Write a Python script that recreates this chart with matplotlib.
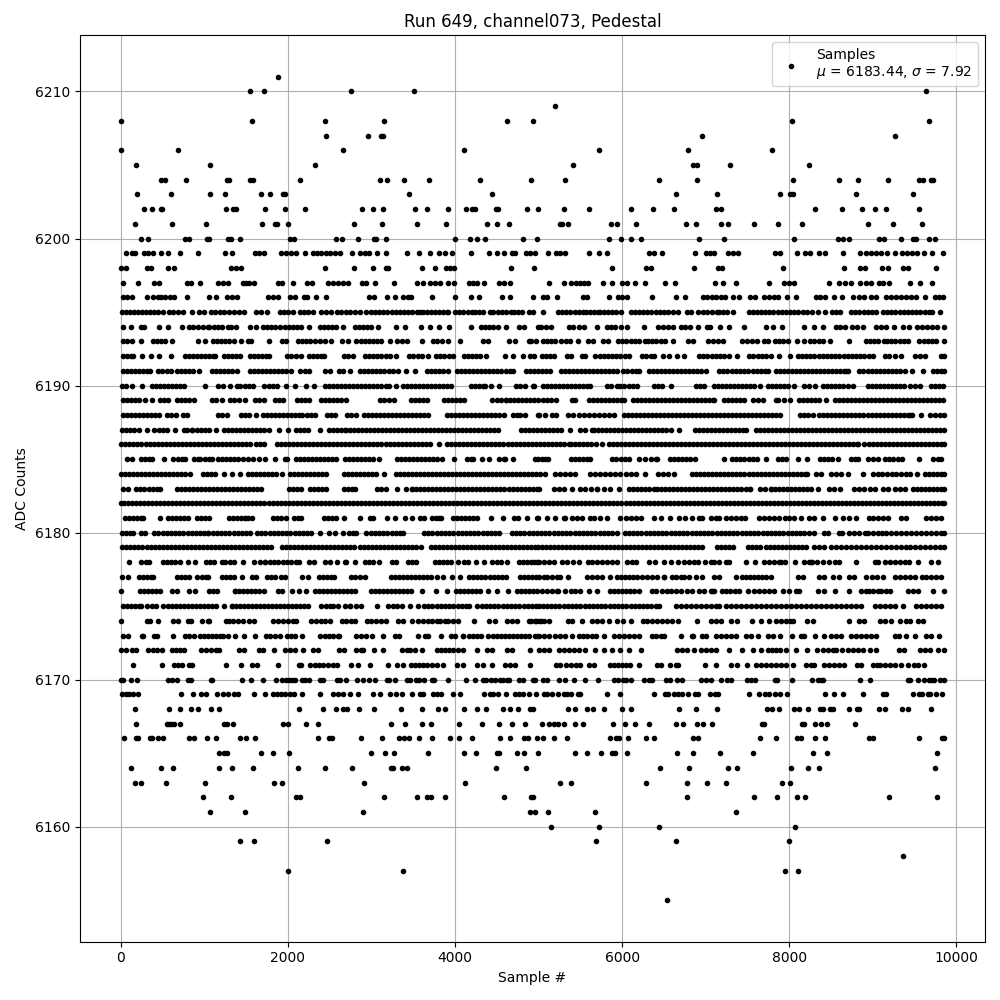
import matplotlib
matplotlib.use('Agg')
import matplotlib.pyplot as plt

# sample numbers, one list per ADC count
x_6211 = [1880]
x_6210 = [1544, 1712, 2756, 3512, 9636]
x_6209 = [5196]
x_6208 = [8, 1568, 2444, 3152, 4616, 4928, 8028, 9672]
x_6207 = [2456, 2960, 3116, 3140, 6960, 9264]
x_6206 = [0, 680, 2660, 4112, 5724, 6792, 7788]
x_6205 = [188, 1064, 2324, 5412, 6852, 6900, 7296, 8232]
x_6204 = [476, 524, 776, 1268, 1292, 1544, 1580, 2144, 3104, 3188, 3392, 3692, 4304, 4904, 5316, 6444, 6900, 8040,
          8592, 8820, 9180, 9552, 9600, 9696, 9720]
x_6203 = [200, 596, 1064, 1244, 1676, 1784, 1940, 1964, 3452, 4448, 6648, 7140, 7884, 8004, 8040, 8796, 9480]
x_6202 = [284, 368, 476, 488, 1256, 1340, 1376, 1724, 1964, 2204, 2888, 3020, 3140, 3524, 3668, 3920, 4136, 4208,
          4244, 4496, 4520, 4856, 4992, 5304, 5604, 6108, 6372, 6624, 7128, 7188, 8304, 8628, 8868, 9024, 9156, 9552]
x_6201 = [176, 608, 1016, 1688, 1844, 1868, 2000, 2792, 3128, 3548, 3896, 4388, 4508, 4640, 5256, 5280, 5352, 5868,
          5940, 6168, 6768, 6888, 7188, 7272, 7572, 7860, 8148, 8940, 9240, 9588]
x_6200 = [248, 320, 764, 812, 1028, 1052, 1280, 1316, 1424, 2024, 2072, 2576, 2648, 2840, 3032, 3056, 3176, 4004,
          4184, 4268, 4364, 4808, 4980, 5844, 5988, 6108, 6228, 6924, 7224, 8052, 8580, 8640, 8712, 9072, 9132, 9336,
          9480, 9516, 9672, 9744]
x_6199 = [60, 140, 172, 280, 328, 380, 476, 560, 704, 920, 1244, 1328, 1608, 1660, 1720, 1920, 1972, 2040, 2092,
          2204, 2300, 2348, 2400, 2460, 2500, 2560, 2620, 2768, 2860, 2920, 2972, 3068, 3168, 3428, 3568, 3704, 3812,
          3880, 3968, 4196, 4412, 4508, 4588, 4680, 4720, 4852, 4900, 4952, 5112, 5204, 5252, 5312, 5604, 5724, 5820,
          6324, 6380, 6480, 6876, 7004, 7052, 7100, 7272, 7332, 7392, 7832, 7892, 8092, 8192, 8252, 8352, 8432, 8640,
          8852, 8912, 8972, 9032, 9092, 9164, 9264, 9352, 9412, 9472, 9532, 9612, 9712, 9844]
x_6198 = [8, 60, 308, 360, 560, 640, 1320, 1380, 1440, 2444, 2788, 3020, 3172, 3200, 3608, 3764, 3892, 3940, 3988,
          4664, 4940, 5880, 6280, 6340, 6864, 7152, 7200, 7920, 8652, 8844, 8904, 9104, 9180, 9364, 9420, 9756]
x_6197 = [32, 212, 400, 460, 788, 840, 944, 1160, 1220, 1280, 1460, 1500, 1540, 1600, 1880, 1932, 2056, 2228, 2284,
          2480, 2540, 2600, 2660, 2720, 2888, 2940, 3044, 3272, 3548, 3612, 3700, 3760, 3820, 3912, 3992, 4172, 4220,
          4268, 4352, 4532, 4588, 4652, 5124, 5304, 5388, 5444, 5492, 5544, 5592, 5772, 5880, 6000, 6052, 6148, 6276,
          6516, 6636, 7116, 7212, 7368, 7756, 7932, 7992, 8052, 8472, 8592, 8672, 8740, 8852, 8912, 8972, 9072, 9124,
          9192, 9444, 9564, 9708]
x_6196 = [28, 80, 132, 308, 388, 440, 480, 532, 588, 640, 788, 1052, 1140, 1268, 1328, 1388, 1760, 1820, 1880, 2020,
          2080, 2188, 2228, 2336, 2456, 2972, 3028, 3188, 3284, 3380, 3440, 3468, 3728, 4004, 4196, 4292, 4568, 4652,
          4928, 5052, 5100, 5220, 5532, 5580, 5844, 5952, 6004, 6052, 6360, 6648, 6756, 6964, 7020, 7072, 7124, 7180,
          7232, 7332, 7404, 7532, 7592, 7692, 7752, 7812, 7864, 7968, 8076, 8316, 8372, 8432, 8532, 8628, 8764, 8832,
          8900, 8972, 9032, 9152, 9212, 9272, 9332, 9392, 9452, 9512, 9628, 9740, 9792, 9844]
x_6195 = [12, 60, 108, 156, 204, 252, 300, 348, 396, 444, 500, 580, 630, 680, 740, 852, 940, 996, 1080, 1130, 1188,
          1240, 1300, 1352, 1410, 1470, 1620, 1680, 1748, 1900, 1950, 2000, 2060, 2140, 2190, 2240, 2300, 2400, 2460,
          2520, 2590, 2640, 2690, 2740, 2800, 2860, 2940, 2990, 3040, 3092, 3140, 3190, 3240, 3290, 3340, 3390, 3440,
          3490, 3540, 3580, 3612, 3660, 3710, 3760, 3810, 3860, 3900, 3920, 4000, 4050, 4100, 4150, 4200, 4240, 4290,
          4340, 4420, 4460, 4510, 4560, 4610, 4668, 4700, 4750, 4800, 4880, 4928, 5052, 5232, 5280, 5330, 5380, 5430,
          5480, 5530, 5572, 5612, 5660, 5712, 5732, 5780, 5830, 5880, 5930, 5992, 6100, 6150, 6200, 6250, 6300, 6350,
          6400, 6450, 6500, 6552, 6612, 6672, 6772, 6820, 6912, 6972, 7020, 7070, 7132, 7160, 7210, 7260, 7332, 7512,
          7560, 7610, 7660, 7710, 7760, 7810, 7860, 7910, 7960, 8010, 8060, 8110, 8160, 8212, 8272, 8340, 8432, 8512,
          8560, 8610, 8740, 8792, 8840, 8890, 8940, 8990, 9040, 9124, 9172, 9220, 9270, 9320, 9370, 9420, 9470, 9520,
          9570, 9620, 9670, 9712, 9804]
x_6194 = [32, 128, 240, 280, 452, 560, 732, 820, 870, 920, 980, 1040, 1060, 1110, 1160, 1210, 1280, 1320, 1380, 1548,
          1620, 1700, 1750, 1800, 1850, 1900, 1960, 2010, 2060, 2110, 2160, 2252, 2380, 2430, 2480, 2530, 2580, 2660,
          2800, 2850, 2900, 2950, 3000, 3080, 3296, 3404, 3596, 3704, 3812, 3932, 4188, 4308, 4360, 4410, 4460, 4520,
          4612, 4760, 4828, 4988, 5032, 5092, 5152, 5364, 5412, 5484, 5540, 5704, 5820, 5870, 5920, 5992, 6052, 6264,
          6432, 6492, 6552, 6604, 6700, 6752, 6812, 6912, 7020, 7052, 7168, 7284, 7464, 7716, 7800, 7912, 8172, 8296,
          8400, 8564, 8612, 8672, 8752, 8812, 8880, 9032, 9092, 9152, 9252, 9364, 9432, 9532, 9590, 9650, 9710, 9770,
          9846]
x_6193 = [28, 80, 132, 248, 380, 428, 480, 532, 608, 920, 1008, 1100, 1150, 1200, 1250, 1300, 1360, 1436, 1520, 1560,
          1772, 1932, 1972, 2120, 2170, 2220, 2270, 2320, 2380, 2440, 2520, 2648, 2720, 2820, 2870, 2920, 2970, 3020,
          3070, 3120, 3220, 3300, 3360, 3420, 3600, 3740, 3790, 3840, 3920, 4060, 4340, 4400, 4640, 4720, 4880, 4912,
          4964, 5052, 5100, 5152, 5200, 5272, 5332, 5380, 5472, 5592, 5652, 5772, 5832, 5952, 6000, 6050, 6100, 6150,
          6200, 6272, 6312, 6360, 6410, 6460, 6510, 6612, 6792, 6852, 7032, 7092, 7152, 7212, 7432, 7492, 7552, 7612,
          7692, 7740, 7832, 7880, 7930, 7980, 8092, 8172, 8252, 8300, 8350, 8400, 8492, 8720, 8912, 8960, 9010, 9060,
          9132, 9172, 9220, 9270, 9320, 9370, 9420, 9552, 9612, 9660, 9710, 9760, 9846]
x_6192 = [28, 76, 120, 152, 260, 360, 460, 600, 768, 816, 864, 912, 960, 1008, 1056, 1100, 1132, 1240, 1288, 1336,
          1384, 1432, 1548, 1596, 1644, 1692, 1740, 1772, 1988, 2040, 2092, 2152, 2248, 2296, 2344, 2392, 2432, 2668,
          2720, 2784, 2928, 2976, 3024, 3072, 3120, 3168, 3216, 3292, 3448, 3500, 3552, 3604, 3672, 3768, 3820, 3872,
          3924, 3972, 4108, 4156, 4204, 4252, 4300, 4372, 4600, 4688, 4812, 4900, 4940, 5040, 5090, 5140, 5184, 5340,
          5384, 5520, 5560, 5680, 5730, 5780, 5830, 5880, 5930, 5980, 6030, 6084, 6240, 6290, 6340, 6384, 6492, 6564,
          6652, 6740, 6920, 6970, 7020, 7070, 7120, 7170, 7220, 7284, 7380, 7520, 7570, 7620, 7670, 7720, 7784, 7872,
          8012, 8100, 8150, 8200, 8250, 8300, 8350, 8400, 8450, 8500, 8550, 8600, 8650, 8700, 8750, 8800, 8850, 8900,
          8950, 9004, 9140, 9190, 9264, 9332, 9500, 9560, 9624, 9820, 9850]
x_6191 = [28, 76, 124, 172, 220, 268, 316, 352, 448, 496, 552, 600, 668, 716, 764, 812, 860, 932, 1092, 1140, 1188,
          1236, 1284, 1332, 1392, 1548, 1596, 1644, 1692, 1740, 1788, 1836, 1884, 1932, 1980, 2032, 2148, 2200, 2252,
          2448, 2500, 2612, 2664, 2744, 2868, 2916, 2964, 3012, 3060, 3108, 3156, 3204, 3252, 3312, 3412, 3520, 3668,
          3716, 3764, 3812, 3860, 3912, 4028, 4076, 4124, 4172, 4220, 4268, 4316, 4364, 4412, 4460, 4508, 4556, 4604,
          4652, 4692, 4848, 4896, 4944, 4992, 5040, 5088, 5136, 5264, 5312, 5360, 5408, 5456, 5504, 5552, 5600, 5648,
          5696, 5744, 5792, 5840, 5888, 5940, 6008, 6060, 6112, 6164, 6200, 6320, 6368, 6416, 6464, 6512, 6560, 6608,
          6656, 6704, 6752, 6800, 6848, 6896, 6944, 7000, 7160, 7210, 7260, 7310, 7360, 7410, 7460, 7510, 7560, 7610,
          7660, 7710, 7744, 7840, 7888, 7936, 7984, 8032, 8080, 8128, 8176, 8224, 8272, 8320, 8368, 8416, 8464, 8512,
          8560, 8608, 8656, 8704, 8684, 8840, 8888, 8936, 8984, 9032, 9080, 9128, 9176, 9224, 9272, 9320, 9384, 9472,
          9604, 9720, 9770, 9820, 9850]
x_6190 = [20, 68, 132, 260, 372, 420, 468, 516, 564, 612, 660, 708, 752, 1012, 1164, 1228, 1312, 1388, 1432, 1492,
          1540, 1588, 1712, 1768, 1820, 1868, 1976, 2080, 2216, 2312, 2448, 2496, 2544, 2592, 2640, 2688, 2736, 2784,
          2832, 2880, 2928, 2976, 3024, 3072, 3120, 3168, 3212, 3288, 3380, 3428, 3476, 3524, 3572, 3620, 3668, 3716,
          3764, 3812, 3860, 3908, 3952, 4188, 4236, 4284, 4332, 4360, 4428, 4528, 4728, 4776, 4832, 4940, 4932, 5052,
          5100, 5148, 5196, 5244, 5292, 5340, 5388, 5436, 5484, 5532, 5580, 5612, 5820, 5868, 5936, 5980, 6028, 6076,
          6124, 6180, 6380, 6428, 6476, 6584, 6880, 6928, 6984, 7100, 7148, 7196, 7244, 7292, 7340, 7388, 7436, 7484,
          7532, 7580, 7644, 7740, 7788, 7836, 7884, 7932, 7980, 8052, 8180, 8240, 8304, 8400, 8448, 8496, 8544, 8592,
          8640, 8700, 8760, 8940, 8988, 9036, 9084, 9132, 9180, 9228, 9276, 9324, 9372, 9440, 9500, 9560, 9700, 9740,
          9790, 9840]
x_6189 = [28, 76, 124, 172, 220, 292, 368, 468, 516, 564, 672, 720, 768, 816, 876, 1088, 1140, 1212, 1308, 1356,
          1412, 1488, 1608, 1656, 1712, 1840, 1888, 1940, 2108, 2156, 2204, 2252, 2392, 2440, 2488, 2536, 2584, 2632,
          2692, 3108, 3156, 3204, 3272, 3468, 3516, 3564, 3612, 3668, 3868, 3916, 3964, 4012, 4060, 4112, 4448, 4500,
          4552, 4612, 4608, 4660, 4708, 4756, 4804, 4852, 4900, 4948, 4988, 5052, 5100, 5148, 5212, 5400, 5436, 5608,
          5656, 5704, 5752, 5800, 5848, 5896, 5944, 5992, 6028, 6128, 6176, 6224, 6272, 6320, 6368, 6416, 6464, 6512,
          6560, 6608, 6656, 6704, 6752, 6800, 6848, 6896, 6944, 6992, 7040, 7088, 7104, 7216, 7264, 7312, 7360, 7408,
          7460, 7568, 7620, 7680, 7840, 7864, 7932, 8008, 8120, 8168, 8216, 8264, 8312, 8360, 8440, 8548, 8596, 8644,
          8692, 8740, 8788, 8836, 8884, 8932, 8980, 9028, 9076, 9124, 9172, 9220, 9268, 9316, 9364, 9412, 9460, 9508,
          9556, 9604, 9652, 9700, 9748, 9796, 9840]
x_6188 = [28, 76, 124, 172, 220, 268, 316, 364, 412, 452, 556, 604, 660, 740, 792, 1168, 1216, 1272, 1440, 1488, 1536,
          1620, 1700, 1748, 1796, 1844, 1892, 1940, 1988, 2036, 2084, 2132, 2172, 2228, 2276, 2324, 2472, 2520, 2560,
          2708, 2756, 2812, 2908, 2956, 3004, 3052, 3100, 3148, 3196, 3244, 3292, 3340, 3388, 3436, 3484, 3532, 3580,
          3628, 3672, 3908, 3956, 4004, 4052, 4100, 4148, 4196, 4244, 4292, 4340, 4388, 4436, 4484, 4532, 4592, 4688,
          4736, 4780, 4840, 4990, 5000, 5080, 5160, 5208, 5352, 5412, 5480, 5540, 5600, 5660, 5720, 5780, 5840, 5900,
          6020, 6068, 6116, 6164, 6212, 6260, 6308, 6356, 6404, 6452, 6500, 6548, 6596, 6644, 6692, 6740, 6788, 6836,
          6884, 6932, 6980, 7028, 7076, 7124, 7172, 7220, 7268, 7316, 7364, 7412, 7460, 7508, 7556, 7604, 7652, 7700,
          7748, 7796, 7844, 7884, 8124, 8172, 8220, 8284, 8360, 8408, 8456, 8504, 8552, 8600, 8648, 8696, 8744, 8792,
          8840, 8888, 8936, 8984, 9032, 9080, 9128, 9176, 9224, 9272, 9320, 9368, 9416, 9464, 9444, 9576, 9680, 9740,
          9800, 9846]
x_6187 = [16, 64, 112, 160, 224, 308, 392, 452, 508, 552, 648, 752, 796, 848, 856, 908, 956, 1004, 1052, 1144, 1240,
          1288, 1336, 1384, 1432, 1480, 1528, 1576, 1624, 1672, 1720, 1768, 1892, 2000, 2100, 2148, 2196, 2244, 2384,
          2492, 2540, 2588, 2636, 2692, 2688, 2740, 2788, 2836, 2884, 2932, 2980, 3028, 3076, 3124, 3172, 3220, 3268,
          3316, 3364, 3412, 3460, 3508, 3556, 3604, 3652, 3700, 3748, 3796, 3844, 3892, 3940, 3988, 4036, 4084, 4132,
          4180, 4228, 4276, 4324, 4372, 4420, 4468, 4512, 4788, 4836, 4880, 4932, 4980, 5028, 5076, 5124, 5172, 5220,
          5264, 5380, 5500, 5560, 5640, 5660, 5708, 5756, 5804, 5852, 5900, 5948, 5996, 6044, 6092, 6140, 6188, 6236,
          6284, 6332, 6380, 6428, 6476, 6524, 6580, 6680, 6868, 6916, 6964, 7012, 7060, 7108, 7156, 7204, 7252, 7300,
          7348, 7396, 7444, 7484, 7600, 7648, 7696, 7744, 7792, 7840, 7888, 7936, 7984, 8032, 8080, 8128, 8176, 8224,
          8272, 8320, 8368, 8416, 8464, 8512, 8560, 8608, 8656, 8704, 8752, 8800, 8848, 8896, 8944, 8992, 9040, 9088,
          9136, 9184, 9232, 9280, 9328, 9376, 9424, 9472, 9520, 9568, 9616, 9664, 9712, 9760, 9808, 9850]
x_6186 = [8, 56, 104, 152, 200, 248, 296, 344, 392, 440, 488, 536, 584, 632, 680, 728, 776, 824, 872, 920, 968, 1016,
          1064, 1112, 1160, 1208, 1256, 1304, 1352, 1400, 1448, 1500, 1548, 1620, 1664, 1712, 1872, 1920, 1968, 2016,
          2064, 2112, 2160, 2208, 2256, 2304, 2352, 2400, 2448, 2496, 2544, 2592, 2640, 2688, 2736, 2784, 2832, 2880,
          2928, 2976, 3024, 3072, 3120, 3168, 3216, 3264, 3312, 3360, 3408, 3456, 3504, 3552, 3600, 3648, 3696, 3812,
          3908, 3956, 4004, 4052, 4100, 4148, 4196, 4244, 4292, 4340, 4388, 4436, 4484, 4532, 4580, 4628, 4676, 4724,
          4772, 4820, 4868, 4916, 4964, 5012, 5060, 5108, 5156, 5204, 5252, 5300, 5360, 5388, 5440, 5488, 5536, 5584,
          5632, 5684, 5764, 5840, 5888, 5936, 5984, 6032, 6080, 6128, 6176, 6224, 6272, 6320, 6368, 6416, 6464, 6512,
          6560, 6608, 6656, 6704, 6752, 6800, 6848, 6896, 6944, 6992, 7040, 7088, 7136, 7184, 7232, 7280, 7328, 7376,
          7424, 7472, 7520, 7568, 7616, 7664, 7712, 7760, 7808, 7856, 7904, 7952, 8000, 8048, 8096, 8144, 8192, 8240,
          8288, 8336, 8384, 8432, 8480, 8528, 8576, 8624, 8672, 8720, 8768, 8816, 8824, 8900, 8948, 8996, 9044, 9092,
          9140, 9188, 9236, 9284, 9332, 9380, 9428, 9476, 9524, 9572, 9620, 9668, 9716, 9764, 9812, 9850]
x_6185 = [80, 140, 244, 292, 340, 376, 520, 628, 680, 732, 772, 880, 928, 952, 1012, 1060, 1092, 1168, 1216, 1264,
          1312, 1360, 1408, 1468, 1528, 1580, 1660, 1728, 1840, 1968, 1988, 2100, 2148, 2196, 2244, 2292, 2340, 2388,
          2436, 2484, 2532, 2572, 2688, 2736, 2784, 2832, 2880, 2928, 2976, 3024, 3092, 3308, 3356, 3404, 3452, 3500,
          3548, 3596, 3644, 3692, 3740, 3788, 3842, 3992, 4148, 4196, 4216, 4320, 4412, 4528, 4592, 4600, 4688, 4952,
          4988, 5040, 5080, 5112, 5392, 5440, 5488, 5536, 5584, 5616, 5880, 5932, 5984, 6036, 6084, 6204, 6272, 6348,
          6400, 6420, 6568, 6616, 6664, 6712, 6760, 6808, 6868, 7220, 7320, 7368, 7416, 7464, 7512, 7560, 7608, 7724,
          7860, 7908, 7956, 8104, 8212, 8372, 8420, 8468, 8516, 8584, 8740, 8788, 8820, 8940, 9000, 9060, 9140, 9192,
          9244, 9296, 9352, 9552, 9720, 9780, 9816]
x_6184 = [0, 48, 96, 144, 192, 240, 288, 336, 384, 432, 480, 528, 576, 624, 672, 720, 768, 832, 980, 1028, 1076, 1124,
          1232, 1328, 1424, 1520, 1568, 1616, 1664, 1712, 1760, 1808, 1856, 1932, 2028, 2076, 2124, 2172, 2220, 2268,
          2316, 2364, 2412, 2452, 2668, 2716, 2764, 2812, 2860, 2908, 2956, 3004, 3052, 3152, 3288, 3336, 3384, 3432,
          3480, 3528, 3576, 3624, 3672, 3720, 3768, 3816, 3864, 3912, 3960, 4008, 4056, 4104, 4152, 4200, 4248, 4296,
          4344, 4392, 4440, 4488, 4536, 4584, 4632, 4680, 4728, 4776, 4824, 4872, 4920, 4968, 5012, 5080, 5200, 5260,
          5320, 5380, 5440, 5620, 5680, 5740, 5800, 5860, 5920, 5980, 6040, 6100, 6160, 6270, 6432, 6492, 6552, 6620,
          6840, 6888, 6936, 6984, 7032, 7080, 7128, 7176, 7224, 7272, 7320, 7368, 7416, 7464, 7512, 7560, 7608, 7656,
          7704, 7752, 7800, 7848, 7896, 7944, 7992, 8040, 8088, 8136, 8184, 8208, 8320, 8380, 8504, 8564, 8624, 8700,
          8880, 9000, 9056, 9112, 9168, 9224, 9280, 9336, 9392, 9448, 9524, 9620, 9668, 9716, 9764, 9812, 9850]
x_6183 = [28, 92, 188, 236, 284, 332, 380, 428, 472, 668, 716, 764, 812, 860, 908, 956, 1004, 1052, 1100, 1148, 1196,
          1244, 1292, 1340, 1388, 1436, 1484, 1532, 1580, 1628, 1680, 2008, 2056, 2112, 2152, 2268, 2316, 2364, 2412,
          2452, 2668, 2716, 2764, 2808, 3068, 3116, 3176, 3308, 3408, 3488, 3488, 3536, 3584, 3632, 3680, 3728, 3776,
          3824, 3872, 3920, 3968, 4016, 4064, 4112, 4160, 4208, 4256, 4304, 4352, 4400, 4448, 4496, 4544, 4592, 4640,
          4688, 4736, 4784, 4832, 4880, 4928, 4976, 5000, 5180, 5240, 5300, 5400, 5500, 5560, 5632, 5704, 5700, 5780,
          5860, 5964, 6080, 6128, 6176, 6224, 6272, 6320, 6380, 6420, 6468, 6516, 6564, 6612, 6660, 6708, 6756, 6804,
          6852, 6900, 6948, 6996, 7044, 7092, 7140, 7188, 7236, 7284, 7332, 7380, 7428, 7476, 7524, 7524, 7648, 7708,
          7780, 7780, 7828, 7876, 7924, 7972, 8020, 8068, 8116, 8164, 8212, 8260, 8344, 8480, 8540, 8604, 8780, 8840,
          8900, 8960, 9020, 9124, 9180, 9260, 9320, 9388, 9480, 9528, 9576, 9624, 9672, 9720, 9768, 9816, 9850]
x_6182 = [0, 40, 88, 136, 184, 232, 280, 328, 376, 424, 472, 520, 568, 616, 664, 712, 760, 808, 856, 904, 952, 1000,
          1048, 1096, 1144, 1192, 1240, 1288, 1336, 1384, 1432, 1480, 1528, 1576, 1624, 1672, 1720, 1768, 1816, 1864,
          1912, 1960, 2008, 2056, 2104, 2152, 2200, 2248, 2296, 2344, 2392, 2440, 2488, 2536, 2584, 2632, 2680, 2728,
          2776, 2824, 2872, 2920, 2968, 3016, 3064, 3112, 3160, 3208, 3256, 3304, 3352, 3400, 3448, 3496, 3544, 3592,
          3640, 3688, 3736, 3784, 3832, 3880, 3928, 3976, 4024, 4072, 4120, 4168, 4216, 4264, 4312, 4360, 4408, 4456,
          4504, 4552, 4600, 4648, 4696, 4744, 4792, 4840, 4888, 4936, 4984, 5032, 5080, 5128, 5176, 5224, 5272, 5320,
          5368, 5416, 5464, 5512, 5560, 5608, 5656, 5704, 5752, 5800, 5848, 5896, 5944, 5992, 6040, 6088, 6136, 6184,
          6232, 6280, 6328, 6376, 6424, 6472, 6520, 6568, 6616, 6664, 6712, 6760, 6808, 6856, 6904, 6952, 7000, 7048,
          7096, 7144, 7192, 7240, 7288, 7336, 7384, 7432, 7480, 7528, 7576, 7624, 7672, 7720, 7768, 7816, 7864, 7912,
          7960, 8008, 8056, 8104, 8152, 8200, 8248, 8296, 8344, 8392, 8440, 8488, 8536, 8584, 8632, 8680, 8728, 8776,
          8824, 8872, 8920, 8968, 9016, 9064, 9112, 9160, 9208, 9256, 9304, 9352, 9400, 9448, 9496, 9544, 9592, 9640,
          9688, 9736, 9784, 9832, 9850]
x_6181 = [56, 104, 152, 200, 244, 272, 464, 568, 616, 664, 712, 760, 808, 912, 960, 1008, 1056, 1292, 1340, 1388,
          1436, 1484, 1520, 1488, 1568, 1816, 1864, 1912, 1976, 2068, 2116, 2160, 2428, 2476, 2524, 2572, 2672, 2864,
          2980, 3020, 3188, 3280, 3396, 3488, 3576, 3624, 3724, 3772, 3812, 3832, 3972, 4028, 4076, 4124, 4172, 4220,
          4268, 4432, 4572, 4708, 4756, 4864, 4988, 4980, 5100, 5200, 5300, 5312, 5400, 5460, 5520, 5620, 5660, 5740,
          5820, 5980, 6040, 6100, 6160, 6220, 6380, 6460, 6570, 6680, 6752, 6840, 6920, 6960, 7060, 7120, 7160, 7240,
          7300, 7360, 7420, 7472, 7640, 7700, 7760, 7820, 7880, 7950, 8000, 8060, 8140, 8240, 8296, 8400, 8548, 8640,
          8720, 8800, 8952, 9000, 9060, 9120, 9176, 9340, 9400, 9632, 9700, 9760, 9820]
x_6180 = [12, 60, 108, 152, 240, 292, 400, 450, 500, 550, 600, 650, 700, 750, 800, 850, 900, 950, 1000, 1044, 1048,
          1100, 1150, 1200, 1250, 1300, 1350, 1400, 1450, 1500, 1552, 1628, 1680, 1730, 1780, 1830, 1880, 1930, 1980,
          2030, 2080, 2130, 2180, 2230, 2280, 2384, 2496, 2560, 2664, 2732, 2780, 2820, 2940, 2990, 3040, 3090, 3140,
          3190, 3240, 3290, 3340, 3380, 3632, 3680, 3730, 3780, 3830, 3880, 3930, 3980, 4030, 4080, 4130, 4180, 4230,
          4280, 4330, 4380, 4430, 4480, 4532, 4680, 4730, 4780, 4830, 4880, 4930, 4980, 5030, 5080, 5130, 5180, 5230,
          5280, 5330, 5380, 5430, 5480, 5530, 5580, 5630, 5680, 5730, 5780, 5830, 5880, 5944, 6030, 6080, 6130, 6180,
          6230, 6280, 6330, 6380, 6430, 6480, 6530, 6580, 6630, 6680, 6730, 6780, 6830, 6880, 6930, 6980, 7030, 7080,
          7130, 7180, 7230, 7280, 7330, 7380, 7430, 7480, 7530, 7580, 7630, 7680, 7730, 7780, 7830, 7880, 7930, 7980,
          8030, 8080, 8130, 8180, 8230, 8296, 8412, 8460, 8592, 8632, 8712, 8780, 8836, 8910, 8940, 9000, 9060, 9110,
          9160, 9220, 9280, 9340, 9400, 9460, 9520, 9580, 9640, 9700, 9760, 9820, 9850]
x_6179 = [20, 68, 116, 164, 212, 260, 308, 356, 404, 452, 500, 548, 596, 644, 692, 740, 788, 836, 884, 932, 980, 1028,
          1076, 1124, 1172, 1220, 1268, 1316, 1364, 1412, 1460, 1508, 1556, 1604, 1652, 1700, 1748, 1796, 1932, 1972,
          2020, 2068, 2116, 2164, 2212, 2260, 2308, 2356, 2404, 2452, 2500, 2548, 2596, 2644, 2692, 2740, 2788, 2860,
          2908, 2956, 3004, 3052, 3100, 3148, 3196, 3244, 3292, 3340, 3388, 3436, 3484, 3532, 3592, 3708, 3756, 3804,
          3852, 3900, 3948, 3996, 4044, 4092, 4140, 4188, 4236, 4284, 4332, 4380, 4428, 4476, 4524, 4572, 4620, 4668,
          4716, 4764, 4812, 4860, 4908, 4956, 4992, 5040, 5088, 5136, 5184, 5232, 5280, 5328, 5376, 5424, 5472, 5520,
          5568, 5616, 5664, 5712, 5760, 5808, 5856, 5904, 5952, 6000, 6048, 6096, 6144, 6192, 6240, 6288, 6336, 6384,
          6432, 6480, 6528, 6576, 6624, 6672, 6720, 6768, 6816, 6864, 6912, 6960, 7132, 7180, 7228, 7276, 7330, 7500,
          7548, 7596, 7650, 7720, 7768, 7816, 7864, 7912, 7960, 8008, 8056, 8104, 8152, 8200, 8290, 8350, 8420, 8500,
          8560, 8620, 8680, 8740, 8800, 8860, 8920, 8980, 9040, 9100, 9160, 9220, 9280, 9340, 9400, 9440, 9500, 9560,
          9620, 9680, 9740, 9800, 9850]
x_6178 = [100, 248, 296, 340, 508, 556, 604, 652, 712, 800, 888, 1020, 1068, 1116, 1212, 1252, 1308, 1352, 1460,
          1592, 1672, 1728, 1728, 1780, 1832, 1884, 1936, 1988, 2040, 2092, 2132, 2248, 2312, 2448, 2500, 2592, 2692,
          2688, 2800, 2928, 2976, 3024, 3092, 3240, 3292, 3432, 3488, 3528, 3760, 3808, 3856, 3904, 3952, 4040, 4108,
          4160, 4252, 4348, 4444, 4500, 4556, 4620, 4768, 4816, 4864, 4912, 4980, 4950, 5000, 5060, 5120, 5180, 5284,
          5340, 5412, 5484, 5592, 5640, 5700, 5760, 5820, 5880, 5944, 6060, 6120, 6160, 6320, 6392, 6500, 6584, 6668,
          6740, 6800, 6860, 6908, 6988, 7060, 7100, 7160, 7240, 7280, 7480, 7588, 7700, 7760, 7820, 7880, 7904, 7952,
          8072, 8180, 8232, 8260, 8270, 8330, 8400, 8470, 8550, 8600, 8800, 9020, 9060, 9140, 9200, 9260, 9320, 9380,
          9430, 9540, 9700, 9780]
x_6177 = [20, 88, 216, 264, 312, 360, 388, 668, 716, 764, 812, 912, 968, 1020, 1048, 1208, 1256, 1304, 1352, 1452,
          1568, 1620, 1752, 1800, 1848, 1920, 1960, 2172, 2240, 2368, 2416, 2464, 2512, 2552, 2760, 2808, 2860, 2920,
          3228, 3276, 3324, 3372, 3420, 3468, 3516, 3564, 3612, 3660, 3712, 3788, 3852, 3960, 4060, 4168, 4216, 4264,
          4312, 4360, 4420, 4468, 4516, 4564, 4610, 4772, 4820, 4868, 4916, 4964, 5000, 5060, 5100, 5160, 5220, 5256,
          5352, 5584, 5640, 5700, 5760, 5860, 5940, 5988, 6036, 6084, 6132, 6180, 6240, 6300, 6360, 6420, 6500, 6500,
          6600, 6650, 6700, 6740, 6800, 6880, 6960, 7100, 7160, 7360, 7432, 7480, 7528, 7576, 7624, 7672, 7720, 7780,
          8100, 8160, 8352, 8412, 8520, 8600, 8720, 8780, 8920, 8990, 9050, 9120, 9260, 9320, 9380, 9440, 9500, 9590,
          9640, 9700, 9760, 9820]
x_6176 = [8, 228, 276, 324, 372, 420, 468, 612, 672, 820, 892, 1052, 1100, 1152, 1372, 1368, 1420, 1468, 1516, 1564,
          1612, 1660, 1720, 1880, 1932, 2052, 2132, 2220, 2328, 2376, 2424, 2472, 2520, 2568, 2616, 2664, 2712, 2760,
          2808, 2996, 3044, 3092, 3140, 3188, 3236, 3284, 3332, 3380, 3428, 3476, 3600, 3772, 3900, 4008, 4060, 4108,
          4156, 4204, 4252, 4300, 4400, 4504, 4628, 4740, 4788, 4836, 4884, 4932, 4980, 5040, 5100, 5160, 5220, 5232,
          5316, 5392, 5440, 5500, 5600, 5700, 5860, 5900, 5950, 6000, 6040, 6092, 6140, 6204, 6360, 6400, 6480, 6540,
          6588, 6640, 6700, 6780, 6840, 6920, 6980, 7060, 7100, 7080, 7192, 7244, 7296, 7348, 7400, 7500, 7580, 7640,
          7700, 7760, 7820, 7920, 8000, 8080, 8120, 8348, 8412, 8552, 8720, 8860, 8912, 8952, 9000, 9060, 9100, 9160,
          9200, 9420, 9480, 9540, 9720, 9850]
x_6175 = [28, 76, 124, 172, 220, 248, 308, 368, 420, 500, 568, 616, 664, 712, 760, 808, 856, 904, 952, 1000, 1048,
          1096, 1144, 1232, 1328, 1328, 1376, 1424, 1472, 1520, 1568, 1616, 1664, 1712, 1760, 1808, 1856, 1904, 1952,
          2000, 2048, 2096, 2144, 2192, 2240, 2392, 2452, 2500, 2748, 2540, 2600, 2680, 2748, 2820, 2880, 3068, 3200,
          3260, 3300, 3360, 3460, 3552, 3628, 3680, 3730, 3780, 3830, 3880, 3930, 3980, 4030, 4080, 4130, 4172, 4268,
          4320, 4370, 4420, 4470, 4520, 4570, 4620, 4670, 4720, 4770, 4820, 4870, 4920, 4970, 5000, 5050, 5100, 5150,
          5200, 5250, 5300, 5350, 5400, 5450, 5500, 5550, 5600, 5650, 5700, 5750, 5800, 5850, 5900, 5950, 6000, 6050,
          6100, 6150, 6200, 6250, 6300, 6350, 6400, 6444, 6640, 6700, 6760, 6820, 6880, 6940, 7000, 7060, 7120, 7160,
          7240, 7300, 7360, 7420, 7480, 7540, 7600, 7660, 7720, 7780, 7840, 7900, 7960, 8020, 8080, 8140, 8200, 8260,
          8320, 8380, 8440, 8500, 8560, 8620, 8680, 8740, 8800, 8864, 9020, 9080, 9140, 9200, 9260, 9360, 9520, 9580,
          9640, 9700, 9760, 9820]
x_6174 = [8, 308, 352, 440, 620, 680, 800, 844, 972, 1040, 1060, 1260, 1300, 1340, 1400, 1460, 1540, 1600, 1820,
          1880, 1940, 2000, 2060, 2100, 2280, 2340, 2400, 2440, 2500, 2648, 2700, 2760, 2800, 2948, 3000, 3060, 3120,
          3172, 3320, 3380, 3488, 3560, 3620, 3680, 3730, 3780, 3820, 3880, 3920, 3980, 4040, 4232, 4412, 4480, 4620,
          4680, 4736, 4880, 4960, 4912, 4972, 5032, 5000, 5060, 5120, 5356, 5400, 5520, 5640, 5700, 5760, 5848, 5944,
          6012, 6104, 6252, 6300, 6360, 6420, 6480, 6540, 6600, 6672, 6892, 7060, 7120, 7180, 7300, 7380, 7552, 7660,
          7760, 7840, 7900, 7960, 8010, 8040, 8210, 8280, 8716, 8830, 8900, 9080, 9140, 9220, 9320, 9392, 9448, 9540,
          9600]
x_6173 = [28, 92, 252, 272, 400, 432, 620, 768, 816, 880, 952, 1000, 1048, 1096, 1144, 1192, 1220, 1288, 1372, 1472,
          1604, 1740, 1780, 1840, 1900, 1988, 2040, 2090, 2172, 2388, 2440, 2490, 2540, 2600, 2608, 2820, 2880, 2940,
          3012, 3140, 3280, 3328, 3560, 3640, 3680, 3828, 3950, 4000, 4100, 4172, 4100, 4220, 4268, 4316, 4396, 4452,
          4500, 4548, 4596, 4644, 4692, 4740, 4788, 4836, 4884, 4980, 4952, 5000, 5060, 5120, 5200, 5260, 5320, 5400,
          5480, 5530, 5580, 5640, 5692, 5788, 5900, 5960, 6020, 6080, 6140, 6200, 6352, 6400, 6460, 6504, 6700, 6832,
          6852, 6960, 7000, 7120, 7180, 7240, 7300, 7360, 7480, 7540, 7620, 7740, 7800, 7892, 8032, 8140, 8180, 8308,
          8420, 8500, 8560, 8620, 8740, 8800, 8860, 8920, 8980, 9040, 9260, 9312, 9392, 9508, 9640, 9700, 9792]
x_6172 = [0, 60, 140, 188, 328, 380, 430, 488, 612, 660, 708, 752, 960, 1020, 1080, 1140, 1180, 1420, 1480, 1652,
          1700, 1832, 1968, 2020, 2080, 2180, 2300, 2360, 2612, 2672, 2820, 2870, 2900, 3032, 3140, 3368, 3420, 3460,
          3520, 3600, 3780, 3830, 3880, 3930, 3980, 4040, 4100, 4260, 4380, 4440, 4620, 4680, 4892, 5000, 5060, 5128,
          5240, 5300, 5360, 5420, 5480, 5550, 5680, 5780, 5880, 5970, 6084, 6228, 6660, 6720, 6780, 6860, 6940, 7000,
          7064, 7120, 7276, 7432, 7570, 7660, 7740, 7790, 7840, 7890, 7960, 8080, 8212, 8332, 8400, 8460, 8520, 8560,
          8630, 8700, 8760, 8820, 8880, 8960, 9032, 9310, 9370, 9560, 9620, 9680, 9776, 9850]
x_6171 = [152, 488, 640, 680, 732, 820, 852, 1256, 1436, 1568, 1628, 1880, 2132, 2160, 2268, 2320, 2370, 2420, 2480,
          2540, 2592, 2760, 2840, 2984, 3200, 3300, 3380, 3468, 3520, 3570, 3620, 3670, 3720, 3780, 3852, 4020, 4100,
          4260, 4340, 4448, 4600, 4660, 4720, 4892, 5212, 5260, 5330, 5392, 5448, 5500, 5600, 5660, 5860, 5900, 5950,
          6000, 6050, 6092, 6200, 6412, 6470, 6570, 6650, 6670, 6992, 7120, 7300, 7380, 7492, 7600, 7660, 7720, 7780,
          7840, 7900, 7960, 8040, 8200, 8260, 8292, 8412, 8470, 8530, 8600, 8660, 8812, 8860, 9000, 9050, 9090, 9140,
          9200, 9270, 9340, 9420, 9490, 9540, 9612]
x_6170 = [0, 28, 128, 200, 560, 608, 668, 800, 836, 1076, 1088, 1448, 1556, 1700, 1856, 1928, 1976, 2012, 2048, 2084,
          2168, 2204, 2252, 2384, 2420, 2588, 2624, 2696, 2828, 2900, 2972, 3044, 3188, 3212, 3284, 3428, 3464, 3536,
          3572, 3632, 3728, 3752, 3920, 4136, 4244, 4340, 4376, 4436, 4484, 4544, 4580, 4616, 4640, 4760, 4808, 4928,
          4952, 5052, 5100, 5244, 5316, 5424, 5556, 5712, 5904, 5952, 6012, 6048, 6108, 6264, 6324, 6360, 6528, 6576,
          6660, 6720, 6948, 7008, 7068, 7188, 7260, 7308, 7488, 7536, 7584, 7824, 7848, 8028, 8268, 8340, 8376, 8400,
          8844, 8964, 9420, 9444, 9540, 9612, 9672, 9708, 9732, 9804, 9850]
x_6169 = [20, 60, 100, 152, 212, 716, 860, 956, 1016, 1148, 1220, 1280, 1352, 1400, 1592, 1724, 1820, 1868, 1916,
          1964, 2024, 2072, 2168, 2384, 2540, 2600, 2660, 2744, 2840, 3020, 3104, 3224, 3296, 3368, 3488, 3584, 3620,
          3740, 3788, 3836, 3980, 4064, 4352, 4424, 4460, 4520, 4604, 4712, 4760, 4808, 4880, 4964, 5064, 5100, 5160,
          5232, 5304, 5340, 5388, 5472, 5496, 5820, 5976, 6384, 6516, 6552, 6624, 6672, 6720, 6792, 6876, 6912, 7056,
          7116, 7152, 7512, 7632, 7704, 7752, 7824, 7884, 7968, 8424, 8532, 8640, 8880, 9120, 9156, 9480, 9552, 9588,
          9660, 9684, 9756, 9828]
x_6168 = [176, 572, 704, 836, 920, 1076, 1172, 2132, 2420, 2576, 2660, 2708, 2852, 3032, 3356, 3608, 3800, 3884,
          4112, 4268, 4376, 4580, 4652, 4748, 4892, 4928, 5352, 5436, 5580, 5652, 5784, 6000, 6108, 6684, 6888, 7140,
          7728, 7788, 7872, 8052, 8112, 8220, 8364, 8400, 8484, 8520, 8712, 8808, 8832, 9072, 9144, 9348, 9420, 9696]
x_6167 = [188, 548, 572, 596, 632, 704, 1232, 1268, 1340, 1940, 2000, 2216, 2360, 3236, 3404, 3608, 3716, 4052, 4328,
          4532, 4676, 4832, 5040, 5124, 5184, 5232, 5304, 5436, 5532, 5892, 6036, 6156, 6324, 6648, 6732, 6900, 6972,
          7080, 7668, 7692, 8148, 8172, 8304, 8376, 8448, 8784]
x_6166 = [44, 188, 212, 344, 368, 440, 500, 812, 872, 1028, 1136, 1424, 1496, 1604, 2360, 2492, 2528, 2876, 3128,
          3332, 3392, 3452, 3572, 3728, 3944, 4052, 4208, 4544, 4652, 4820, 4868, 4980, 5052, 5184, 5340, 5856, 5928,
          5964, 6072, 6288, 6384, 6852, 6912, 7644, 7836, 8088, 8136, 8304, 8424, 8952, 9000, 9552, 9830, 9850]
x_6165 = [1172, 1232, 1268, 1676, 1820, 2012, 2996, 3164, 3272, 3680, 4112, 4256, 4508, 4532, 4736, 4820, 4992, 5436,
          5580, 5748, 5880, 5916, 6060, 6660, 6852, 7176, 7560, 8280, 8448, 9768]
x_6164 = [128, 476, 620, 1172, 1328, 1580, 2120, 2444, 2768, 3236, 3260, 3368, 3428, 4496, 4844, 6456, 6804, 7272,
          7380, 8016, 8220, 8352, 9744]
x_6163 = [176, 248, 536, 1004, 1832, 1928, 2912, 4124, 5256, 5388, 6288, 6780, 7020, 7248, 7908, 8004]
x_6162 = [980, 1316, 2096, 2144, 3152, 3548, 3668, 3716, 3884, 4592, 4904, 4932, 6780, 7572, 7848, 8088, 8184, 9192,
          9768]
x_6161 = [1064, 1484, 2900, 4892, 4956, 5112, 5676, 7368]
x_6160 = [5148, 5724, 6444, 8064]
x_6159 = [1424, 1592, 2468, 5688, 6648, 7992]
x_6158 = [9360]
x_6157 = [2000, 3380, 7944, 8100]
x_6155 = [6540]

rows = [(6211, x_6211), (6210, x_6210), (6209, x_6209), (6208, x_6208), (6207, x_6207), (6206, x_6206),
        (6205, x_6205), (6204, x_6204), (6203, x_6203), (6202, x_6202), (6201, x_6201), (6200, x_6200),
        (6199, x_6199), (6198, x_6198), (6197, x_6197), (6196, x_6196), (6195, x_6195), (6194, x_6194),
        (6193, x_6193), (6192, x_6192), (6191, x_6191), (6190, x_6190), (6189, x_6189), (6188, x_6188),
        (6187, x_6187), (6186, x_6186), (6185, x_6185), (6184, x_6184), (6183, x_6183), (6182, x_6182),
        (6181, x_6181), (6180, x_6180), (6179, x_6179), (6178, x_6178), (6177, x_6177), (6176, x_6176),
        (6175, x_6175), (6174, x_6174), (6173, x_6173), (6172, x_6172), (6171, x_6171), (6170, x_6170),
        (6169, x_6169), (6168, x_6168), (6167, x_6167), (6166, x_6166), (6165, x_6165), (6164, x_6164),
        (6163, x_6163), (6162, x_6162), (6161, x_6161), (6160, x_6160), (6159, x_6159), (6158, x_6158),
        (6157, x_6157), (6155, x_6155)]

samples = []
counts = []
for level, xs in rows:
    samples += xs
    counts += [level] * len(xs)

plt.figure(figsize=(10, 10))
plt.scatter(samples, counts, c='k', marker='.', zorder=3, label='Samples\n$\\mu$ = 6183.44, $\\sigma$ = 7.92')
plt.title('Run 649, channel073, Pedestal')
plt.xlabel('Sample #')
plt.ylabel('ADC Counts')
plt.xlim(-492, 10342)
plt.ylim(6152.18, 6213.84)
plt.legend(loc='upper right')
plt.grid(True)
plt.tight_layout()
plt.subplots_adjust(top=0.965)
plt.savefig('out.png')
